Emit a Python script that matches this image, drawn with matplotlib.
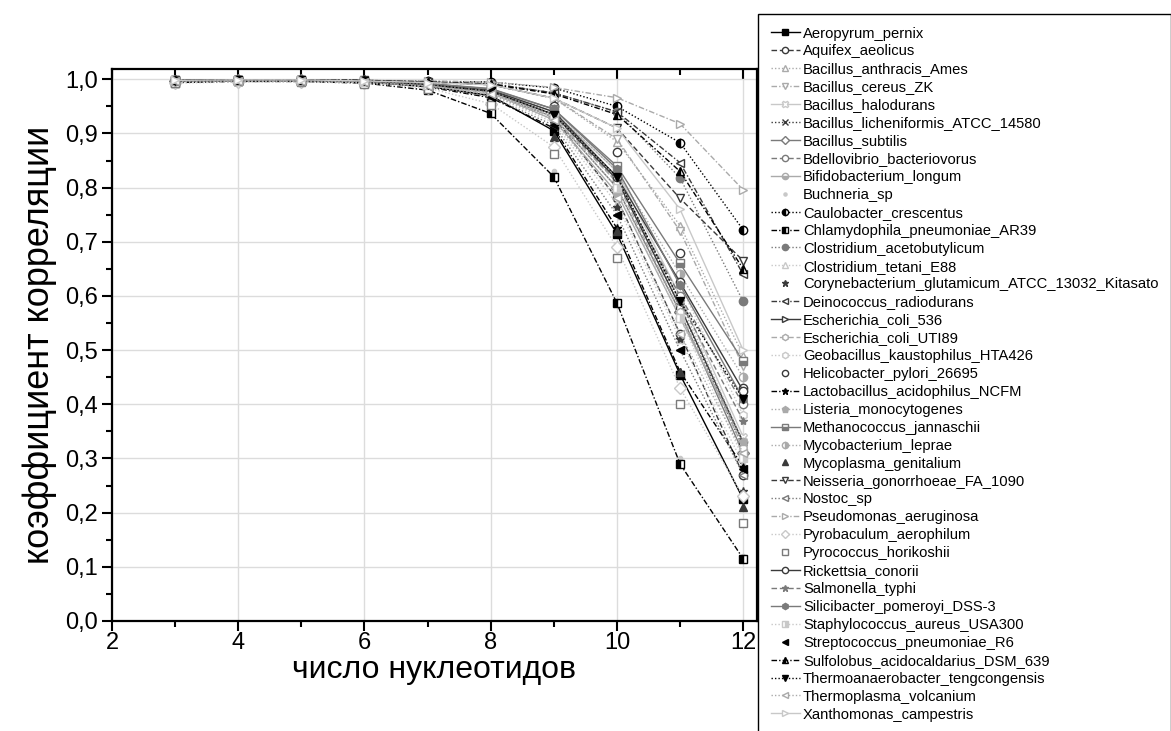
import matplotlib
matplotlib.use("Agg")
import matplotlib.pyplot as plt
from matplotlib.ticker import MultipleLocator, FixedLocator

plt.rcParams['font.family'] = ['Liberation Sans', 'DejaVu Sans']

# --- Data ---
species = [
    "Aeropyrum_pernix", "Aquifex_aeolicus", "Bacillus_anthracis_Ames",
    "Bacillus_cereus_ZK", "Bacillus_halodurans", "Bacillus_licheniformis_ATCC_14580",
    "Bacillus_subtilis", "Bdellovibrio_bacteriovorus", "Bifidobacterium_longum",
    "Buchneria_sp", "Caulobacter_crescentus", "Chlamydophila_pneumoniae_AR39",
    "Clostridium_acetobutylicum", "Clostridium_tetani_E88",
    "Corynebacterium_glutamicum_ATCC_13032_Kitasato", "Deinococcus_radiodurans",
    "Escherichia_coli_536", "Escherichia_coli_UTI89", "Geobacillus_kaustophilus_HTA426",
    "Helicobacter_pylori_26695", "Lactobacillus_acidophilus_NCFM",
    "Listeria_monocytogenes", "Methanococcus_jannaschii", "Mycobacterium_leprae",
    "Mycoplasma_genitalium", "Neisseria_gonorrhoeae_FA_1090", "Nostoc_sp",
    "Pseudomonas_aeruginosa", "Pyrobaculum_aerophilum", "Pyrococcus_horikoshii",
    "Rickettsia_conorii", "Salmonella_typhi", "Silicibacter_pomeroyi_DSS-3",
    "Staphylococcus_aureus_USA300", "Streptococcus_pneumoniae_R6",
    "Sulfolobus_acidocaldarius_DSM_639", "Thermoanaerobacter_tengcongensis",
    "Thermoplasma_volcanium", "Xanthomonas_campestris",
]

n_nucl = [3, 4, 5, 6, 7, 8, 9, 10, 11, 12]

# correlation coefficient for each word length (one value per species, same order)
r3 = [0.998, 0.997, 0.996, 0.996, 0.997, 0.997, 0.997, 0.997, 0.996, 0.995,
      0.998, 0.994, 0.998, 0.996, 0.996, 0.998, 0.997, 0.997, 0.997, 0.997,
      0.996, 0.997, 0.997, 0.997, 0.995, 0.998, 0.996, 0.998, 0.993, 0.994,
      0.997, 0.997, 0.997, 0.996, 0.996, 0.998, 0.997, 0.996, 0.998]
r4 = [0.998, 0.998, 0.997, 0.997, 0.998, 0.998, 0.998, 0.998, 0.997, 0.996,
      0.999, 0.996, 0.998, 0.997, 0.997, 0.999, 0.998, 0.998, 0.998, 0.998,
      0.997, 0.998, 0.998, 0.998, 0.996, 0.999, 0.997, 0.999, 0.995, 0.996,
      0.998, 0.998, 0.998, 0.997, 0.997, 0.999, 0.998, 0.997, 0.999]
r5 = [0.997, 0.998, 0.998, 0.998, 0.998, 0.998, 0.998, 0.998, 0.997, 0.996,
      0.999, 0.996, 0.999, 0.997, 0.997, 0.999, 0.998, 0.998, 0.998, 0.998,
      0.997, 0.998, 0.998, 0.998, 0.996, 0.999, 0.997, 0.999, 0.995, 0.995,
      0.998, 0.998, 0.998, 0.997, 0.997, 0.999, 0.998, 0.997, 0.999]
r6 = [0.995, 0.996, 0.997, 0.997, 0.996, 0.996, 0.996, 0.996, 0.995, 0.993,
      0.998, 0.993, 0.997, 0.995, 0.995, 0.998, 0.996, 0.996, 0.997, 0.997,
      0.995, 0.996, 0.997, 0.996, 0.994, 0.998, 0.995, 0.998, 0.993, 0.992,
      0.996, 0.996, 0.997, 0.995, 0.995, 0.998, 0.996, 0.995, 0.997]
r7 = [0.987, 0.989, 0.994, 0.994, 0.991, 0.990, 0.989, 0.990, 0.988, 0.982,
      0.996, 0.980, 0.995, 0.988, 0.987, 0.995, 0.990, 0.989, 0.992, 0.993,
      0.986, 0.990, 0.992, 0.991, 0.985, 0.995, 0.987, 0.997, 0.984, 0.983,
      0.991, 0.990, 0.992, 0.989, 0.987, 0.995, 0.990, 0.988, 0.994]
r8 = [0.970, 0.975, 0.990, 0.990, 0.980, 0.978, 0.976, 0.978, 0.975, 0.940,
      0.995, 0.937, 0.992, 0.972, 0.970, 0.992, 0.978, 0.977, 0.982, 0.985,
      0.966, 0.978, 0.983, 0.980, 0.962, 0.990, 0.968, 0.995, 0.955, 0.952,
      0.980, 0.978, 0.982, 0.975, 0.968, 0.991, 0.978, 0.972, 0.990]
r9 = [0.905, 0.930, 0.965, 0.965, 0.940, 0.935, 0.930, 0.935, 0.925, 0.830,
      0.984, 0.820, 0.975, 0.920, 0.920, 0.975, 0.935, 0.930, 0.945, 0.950,
      0.910, 0.935, 0.945, 0.940, 0.893, 0.965, 0.915, 0.985, 0.875, 0.862,
      0.940, 0.935, 0.945, 0.930, 0.915, 0.973, 0.935, 0.925, 0.965]
r10 = [0.715, 0.780, 0.885, 0.890, 0.830, 0.820, 0.800, 0.810, 0.790, 0.590,
       0.950, 0.587, 0.940, 0.770, 0.765, 0.940, 0.815, 0.810, 0.835, 0.866,
       0.725, 0.820, 0.840, 0.830, 0.720, 0.910, 0.750, 0.966, 0.690, 0.670,
       0.820, 0.820, 0.835, 0.800, 0.750, 0.935, 0.820, 0.780, 0.910]
r11 = [0.455, 0.530, 0.730, 0.720, 0.600, 0.580, 0.570, 0.600, 0.560, 0.300,
       0.883, 0.290, 0.818, 0.520, 0.520, 0.846, 0.580, 0.570, 0.620, 0.680,
       0.460, 0.590, 0.660, 0.640, 0.460, 0.780, 0.500, 0.918, 0.430, 0.400,
       0.625, 0.590, 0.620, 0.560, 0.500, 0.830, 0.590, 0.530, 0.760]
r12 = [0.225, 0.270, 0.490, 0.470, 0.340, 0.320, 0.310, 0.400, 0.330, 0.120,
       0.722, 0.115, 0.590, 0.290, 0.240, 0.640, 0.330, 0.320, 0.380, 0.430,
       0.285, 0.330, 0.480, 0.450, 0.210, 0.665, 0.270, 0.796, 0.230, 0.180,
       0.425, 0.370, 0.410, 0.300, 0.280, 0.650, 0.410, 0.310, 0.500]

ytick_vals = [0.0, 0.1, 0.2, 0.3, 0.4, 0.5, 0.6, 0.7, 0.8, 0.9, 1.0]
ytick_labels = ["0,0", "0,1", "0,2", "0,3", "0,4", "0,5", "0,6", "0,7", "0,8", "0,9", "1,0"]
xtick_vals = [2, 4, 6, 8, 10, 12]

# --- Styles (Origin-like grayscale) ---
BK, DK, GR, LT, VL = '#000000', '#3a3a3a', '#7a7a7a', '#aaaaaa', '#c8c8c8'
SOL = '-'
DSH = (0, (4, 2))
DOT = (0, (1, 1.5))
DDT = (0, (4, 1.5, 1, 1.5))
NONE = 'none'

# (color, linestyle, marker, marker face)
styles = [
    (BK, SOL, 's', 'full'),     # Aeropyrum
    (DK, DSH, 'o', 'w'),        # Aquifex
    (LT, DOT, '^', 'w'),        # B. anthracis
    (LT, DDT, 'v', 'w'),        # B. cereus
    (VL, SOL, 'X', 'w'),        # B. halodurans
    (DK, DOT, 'x', 'full'),     # B. licheniformis
    (GR, SOL, 'D', 'w'),        # B. subtilis
    (GR, DSH, 'o', 'w'),        # Bdellovibrio
    (LT, SOL, 'o', 'bottom'),   # Bifidobacterium
    (VL, NONE, '.', 'full'),    # Buchneria
    (BK, DOT, 'o', 'left'),     # Caulobacter
    (BK, DDT, 's', 'left'),     # Chlamydophila
    (GR, DOT, 'o', 'full'),     # C. acetobutylicum
    (VL, DOT, '^', 'w'),        # C. tetani
    (DK, NONE, '*', 'full'),    # Corynebacterium
    (DK, DDT, '<', 'w'),        # Deinococcus
    (DK, SOL, '>', 'w'),        # E. coli 536
    (LT, DSH, 'h', 'w'),        # E. coli UTI89
    (VL, DOT, 'h', 'w'),        # Geobacillus
    (DK, NONE, 'o', 'w'),       # Helicobacter
    (BK, DDT, '*', 'full'),     # Lactobacillus
    (LT, DOT, 'p', 'full'),     # Listeria
    (GR, SOL, 's', 'bottom'),   # Methanococcus
    (LT, DOT, 'o', 'right'),    # Mycobacterium
    (DK, NONE, '^', 'full'),    # Mycoplasma
    (DK, DSH, 'v', 'w'),        # Neisseria
    (GR, DOT, '<', 'w'),        # Nostoc
    (LT, DDT, '>', 'w'),        # Pseudomonas
    (VL, DOT, 'D', 'w'),        # Pyrobaculum
    (GR, NONE, 's', 'w'),       # Pyrococcus
    (DK, SOL, 'o', 'w'),        # Rickettsia
    (GR, DSH, '*', 'full'),     # Salmonella
    (GR, SOL, 'h', 'full'),     # Silicibacter
    (VL, DOT, 's', 'right'),    # Staphylococcus
    (BK, NONE, '<', 'full'),    # Streptococcus
    (BK, DDT, '^', 'left'),     # Sulfolobus
    (BK, DOT, 'v', 'full'),     # Thermoanaerobacter
    (LT, DOT, '<', 'w'),        # Thermoplasma
    (VL, SOL, '>', 'w'),        # Xanthomonas
]

columns = [r3, r4, r5, r6, r7, r8, r9, r10, r11, r12]

# --- Plotting ---
fig = plt.figure(figsize=(11.71, 7.31), dpi=100)
ax = fig.add_axes([0.0956, 0.1505, 0.5509, 0.7551])

for i, name in enumerate(species):
    color, ls, marker, face = styles[i]
    yvals = [col[i] for col in columns]
    kw = dict(color=color, linewidth=1.0, marker=marker, markersize=6,
              markeredgecolor=color, markeredgewidth=1.0, label=name)
    if ls == NONE:
        kw['linestyle'] = 'None'
    else:
        kw['linestyle'] = ls
    if face == 'w':
        kw['markerfacecolor'] = 'white'
    elif face == 'full':
        kw['markerfacecolor'] = color
    else:
        kw['fillstyle'] = face
        kw['markerfacecolor'] = color
        kw['markerfacecoloralt'] = 'white'
    ax.plot(n_nucl, yvals, **kw)

ax.set_xlim(2, 12.22)
ax.set_ylim(0, 1.019)
ax.xaxis.set_major_locator(FixedLocator(xtick_vals))
ax.xaxis.set_minor_locator(MultipleLocator(1))
ax.yaxis.set_major_locator(FixedLocator(ytick_vals))
ax.set_yticklabels(ytick_labels)
ax.yaxis.set_minor_locator(MultipleLocator(0.05))

ax.grid(which='major', color='#dcdcdc', linewidth=1.0)
ax.set_axisbelow(True)

for side in ['left', 'bottom', 'top', 'right']:
    ax.spines[side].set_linewidth(1.6)

ax.tick_params(axis='both', which='major', labelsize=17, length=7, width=1.5, pad=3)
ax.tick_params(axis='x', which='major', pad=1)
ax.tick_params(axis='both', which='minor', length=4, width=1.5)
ax.tick_params(top=True, right=True, which='both')
ax.tick_params(axis='both', which='both', direction='out')
# ticks on top point inward
for t in ax.xaxis.get_major_ticks() + ax.xaxis.get_minor_ticks():
    t.tick2line.set_marker(matplotlib.lines.TICKDOWN)

ax.set_xlabel("число нуклеотидов", fontsize=23, labelpad=1)
ax.set_ylabel("коэффициент корреляции", fontsize=26, labelpad=6)

leg = fig.legend(loc='upper left', bbox_to_anchor=(758 / 1171, 1 - 14 / 731),
                 fontsize=10.65, frameon=True, fancybox=False, framealpha=1,
                 edgecolor='black', borderaxespad=0, borderpad=0.85,
                 labelspacing=0.265, handlelength=2.0, handletextpad=0.2,
                 markerscale=0.75)
leg.get_frame().set_linewidth(1.0)

plt.savefig("out.png", dpi=100)
